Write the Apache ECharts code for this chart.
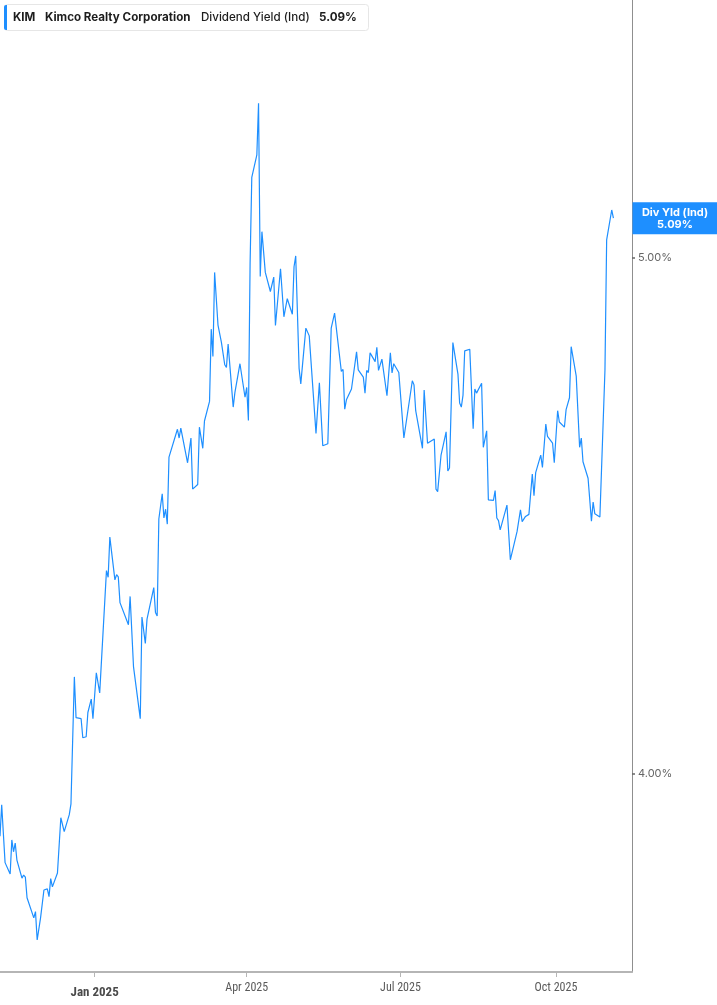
<!DOCTYPE html>
<html>
<head>
<meta charset="utf-8">
<script src="https://cdn.jsdelivr.net/npm/echarts@6/dist/echarts.min.js"></script>
<style>
html,body{margin:0;padding:0;background:#fff;}
#chart{width:717px;height:1005px;}
</style>
</head>
<body>
<div id="chart"></div>
<script>
const ticker = 'KIM';
const company = 'Kimco Realty Corporation';
const metric = 'Dividend Yield (Ind)';
const currentText = '5.09%';
const badgeTitle = 'Div Yld (Ind)';
const yTicks = [4, 5];
const xTicks = ['2025-01-01', '2025-04-01', '2025-07-01', '2025-10-01'];
const xRange = ['2024-11-06', '2025-11-15'];
const yRange = [3.616, 5.5];

const dates = [
'2024-11-06','2024-11-07','2024-11-09','2024-11-12','2024-11-13','2024-11-14','2024-11-15','2024-11-16','2024-11-19','2024-11-20',
'2024-11-21','2024-11-22','2024-11-26','2024-11-27','2024-11-28','2024-11-30','2024-12-02','2024-12-04','2024-12-05','2024-12-06',
'2024-12-07','2024-12-10','2024-12-12','2024-12-14','2024-12-17','2024-12-18','2024-12-20','2024-12-21','2024-12-24','2024-12-25',
'2024-12-27','2024-12-28','2024-12-30','2024-12-31','2025-01-02','2025-01-04','2025-01-08','2025-01-09','2025-01-10','2025-01-13',
'2025-01-14','2025-01-15','2025-01-16','2025-01-17','2025-01-21','2025-01-22','2025-01-24','2025-01-28','2025-01-29','2025-01-31',
'2025-02-01','2025-02-05','2025-02-06','2025-02-07','2025-02-08','2025-02-10','2025-02-11','2025-02-12','2025-02-13','2025-02-14',
'2025-02-19','2025-02-20','2025-02-21','2025-02-25','2025-02-27','2025-02-28','2025-03-03','2025-03-04','2025-03-06','2025-03-07',
'2025-03-10','2025-03-11','2025-03-12','2025-03-13','2025-03-15','2025-03-17','2025-03-19','2025-03-20','2025-03-21','2025-03-24',
'2025-03-25','2025-03-26','2025-03-28','2025-03-31','2025-04-01','2025-04-02','2025-04-03','2025-04-04','2025-04-07','2025-04-08',
'2025-04-09','2025-04-10','2025-04-12','2025-04-15','2025-04-16','2025-04-17','2025-04-18','2025-04-21','2025-04-23','2025-04-25',
'2025-04-28','2025-04-29','2025-04-30','2025-05-02','2025-05-03','2025-05-06','2025-05-08','2025-05-12','2025-05-14','2025-05-16',
'2025-05-19','2025-05-21','2025-05-22','2025-05-23','2025-05-27','2025-05-28','2025-05-29','2025-05-30','2025-06-02','2025-06-05',
'2025-06-06','2025-06-09','2025-06-10','2025-06-11','2025-06-12','2025-06-13','2025-06-16','2025-06-17','2025-06-18','2025-06-20',
'2025-06-23','2025-06-24','2025-06-25','2025-06-26','2025-06-27','2025-06-30','2025-07-03','2025-07-08','2025-07-09','2025-07-10',
'2025-07-14','2025-07-15','2025-07-17','2025-07-18','2025-07-21','2025-07-22','2025-07-23','2025-07-25','2025-07-28','2025-07-29',
'2025-07-30','2025-08-01','2025-08-04','2025-08-05','2025-08-06','2025-08-07','2025-08-08','2025-08-11','2025-08-13','2025-08-14',
'2025-08-15','2025-08-18','2025-08-19','2025-08-21','2025-08-22','2025-08-25','2025-08-26','2025-08-27','2025-08-28','2025-08-29',
'2025-09-02','2025-09-04','2025-09-08','2025-09-10','2025-09-11','2025-09-13','2025-09-15','2025-09-17','2025-09-18','2025-09-19',
'2025-09-22','2025-09-23','2025-09-25','2025-09-26','2025-09-29','2025-09-30','2025-10-02','2025-10-03','2025-10-06','2025-10-07',
'2025-10-09','2025-10-10','2025-10-13','2025-10-15','2025-10-16','2025-10-17','2025-10-20','2025-10-22','2025-10-23','2025-10-24',
'2025-10-27','2025-10-30','2025-10-31','2025-11-03','2025-11-04'
];

const yields = [
3.879,3.940,3.828,3.806,3.872,3.849,3.866,3.833,3.798,3.804,
3.800,3.760,3.721,3.733,3.678,3.721,3.775,3.777,3.762,3.797,
3.781,3.808,3.915,3.888,3.921,3.942,4.188,4.109,4.107,4.070,
4.072,4.119,4.145,4.107,4.196,4.157,4.394,4.381,4.459,4.376,
4.386,4.382,4.332,4.330,4.289,4.344,4.208,4.107,4.304,4.253,
4.300,4.361,4.313,4.306,4.494,4.543,4.496,4.513,4.484,4.614,
4.668,4.651,4.670,4.603,4.651,4.552,4.561,4.672,4.631,4.684,
4.722,4.862,4.809,4.972,4.870,4.837,4.793,4.788,4.833,4.711,
4.739,4.738,4.795,4.730,4.749,4.685,4.990,5.156,5.200,5.300,
4.964,5.051,4.972,4.935,4.935,4.963,4.869,4.979,4.886,4.921,
4.891,4.983,5.004,4.786,4.756,4.864,4.849,4.660,4.758,4.636,
4.640,4.864,4.865,4.893,4.780,4.784,4.707,4.725,4.746,4.818,
4.783,4.769,4.738,4.782,4.778,4.816,4.799,4.827,4.782,4.804,
4.733,4.730,4.816,4.777,4.795,4.778,4.651,4.762,4.754,4.704,
4.631,4.744,4.641,4.640,4.649,4.552,4.547,4.618,4.663,4.587,
4.593,4.836,4.775,4.719,4.711,4.734,4.820,4.823,4.669,4.746,
4.738,4.757,4.633,4.665,4.531,4.530,4.549,4.496,4.491,4.473,
4.521,4.415,4.470,4.512,4.489,4.499,4.503,4.581,4.539,4.584,
4.618,4.594,4.678,4.654,4.641,4.603,4.704,4.682,4.672,4.706,
4.729,4.828,4.771,4.633,4.651,4.605,4.573,4.490,4.527,4.504,
4.498,4.783,5.035,5.093,5.077
];

const LINE = '#1e8fff';
const toTs = s => { const p = s.split('-').map(Number); return new Date(p[0], p[1]-1, p[2]).getTime(); };
const seriesData = dates.map((d, i) => [toTs(d), yields[i]]);
const monthNames = ['Jan','Feb','Mar','Apr','May','Jun','Jul','Aug','Sep','Oct','Nov','Dec'];
const AXIS_FONT = '"Liberation Sans Narrow", "Roboto Condensed", Roboto, sans-serif';
const UI_FONT = 'Inter, "Noto Sans", sans-serif';

const chart = echarts.init(document.getElementById('chart'), null, {renderer: 'canvas'});

const headerText = {fontFamily: UI_FONT, fontSize: 11.6, fill: '#1d1d1d'};

chart.setOption({
  animation: false,
  backgroundColor: '#ffffff',
  grid: {left: 0, right: 85, top: 0, bottom: 33},
  xAxis: {
    type: 'value',
    min: toTs(xRange[0]),
    max: toTs(xRange[1]),
    scale: true,
    splitLine: {show: false},
    axisLine: {show: true, onZero: false, lineStyle: {color: '#b5b5b5', width: 2}},
    axisTick: {show: true, customValues: xTicks.map(toTs), length: 5, lineStyle: {color: '#b5b5b5', width: 1}},
    axisLabel: {
      customValues: xTicks.map(toTs),
      margin: 10,
      color: '#5a5a5a',
      fontFamily: AXIS_FONT,
      fontSize: 12,
      formatter: function (v) {
        const d = new Date(v);
        const t = monthNames[d.getMonth()] + ' ' + d.getFullYear();
        return d.getMonth() === 0 ? '{y|' + t + '}' : t;
      },
      rich: {
        y: {fontWeight: 'bold', fontSize: 13, color: '#4a4a4a', fontFamily: AXIS_FONT, padding: [4, 0, 0, 0]}
      }
    }
  },
  yAxis: {
    type: 'value',
    position: 'right',
    min: yRange[0],
    max: yRange[1],
    scale: true,
    splitLine: {show: false},
    axisLine: {show: true, onZero: false, lineStyle: {color: '#8f8f8f', width: 1}},
    axisTick: {show: true, customValues: yTicks, length: 3, lineStyle: {color: '#666', width: 1.5}},
    axisLabel: {
      customValues: yTicks,
      margin: 6,
      color: '#666',
      fontFamily: UI_FONT,
      fontSize: 11,
      formatter: v => v.toFixed(2) + '%'
    }
  },
  series: [{
    type: 'line',
    data: seriesData,
    showSymbol: false,
    symbol: 'none',
    lineStyle: {color: LINE, width: 1.2},
    z: 3
  }]
});

const lastVal = yields[yields.length - 1];
const py = chart.convertToPixel({yAxisIndex: 0}, lastVal);
const px = chart.convertToPixel({xAxisIndex: 0}, toTs(xRange[1]));

chart.setOption({
  graphic: [
    {type: 'rect', shape: {x: 4.5, y: 4.5, width: 364, height: 26, r: 3}, style: {fill: '#fff', stroke: '#e6e6e6', lineWidth: 1}, z: 10},
    {type: 'rect', shape: {x: 4, y: 5, width: 3, height: 25, r: [2, 0, 0, 2]}, style: {fill: LINE}, z: 11},
    {type: 'text', x: 13, y: 18, style: Object.assign({}, headerText, {text: ticker, fontWeight: 'bold', verticalAlign: 'middle'}), z: 11},
    {type: 'text', x: 45, y: 18, style: Object.assign({}, headerText, {text: company, fontWeight: 'bold', verticalAlign: 'middle'}), z: 11},
    {type: 'text', x: 201, y: 18, style: Object.assign({}, headerText, {text: metric, fontWeight: 500, verticalAlign: 'middle'}), z: 11},
    {type: 'text', x: 319, y: 18, style: Object.assign({}, headerText, {text: currentText, fontWeight: 'bold', verticalAlign: 'middle'}), z: 11},
    {type: 'rect', shape: {x: px + 0.5, y: py - 16, width: 717 - px, height: 32}, style: {fill: LINE}, z: 10},
    {type: 'text', x: px + 43, y: py - 6, style: {text: badgeTitle, fill: '#fff', fontWeight: 'bold', fontSize: 11, fontFamily: UI_FONT, align: 'center', verticalAlign: 'middle'}, z: 11},
    {type: 'text', x: px + 43, y: py + 6, style: {text: currentText, fill: '#fff', fontWeight: 'bold', fontSize: 11, fontFamily: UI_FONT, align: 'center', verticalAlign: 'middle'}, z: 11}
  ]
});
</script>
</body>
</html>
